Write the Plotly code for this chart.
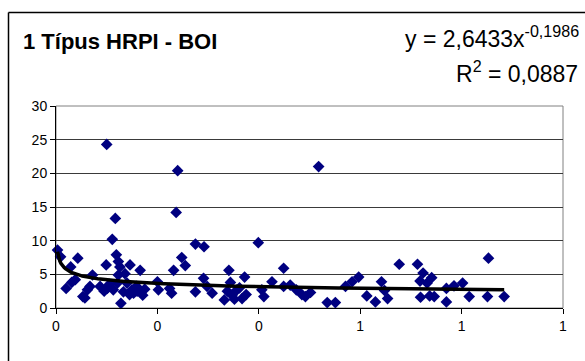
import numpy as np
import plotly.graph_objects as go

# Data
x_vals = [0.003, 0.009, 0.020, 0.029, 0.031, 0.038, 0.043, 0.053, 0.057, 0.062,
          0.067, 0.072, 0.087, 0.095, 0.099, 0.100, 0.101, 0.105, 0.111, 0.113,
          0.117, 0.119, 0.121, 0.123, 0.123, 0.126, 0.128, 0.133, 0.136, 0.140,
          0.145, 0.146, 0.150, 0.153, 0.159, 0.160, 0.166, 0.171, 0.175, 0.200,
          0.202, 0.224, 0.228, 0.232, 0.237, 0.240, 0.248, 0.255, 0.275, 0.275,
          0.291, 0.292, 0.298, 0.308, 0.332, 0.338, 0.341, 0.344, 0.347, 0.352,
          0.357, 0.362, 0.367, 0.372, 0.375, 0.399, 0.406, 0.410, 0.426, 0.449,
          0.449, 0.462, 0.474, 0.485, 0.492, 0.502, 0.518, 0.535, 0.551, 0.571,
          0.584, 0.597, 0.613, 0.630, 0.642, 0.648, 0.654, 0.677, 0.713, 0.718,
          0.719, 0.724, 0.732, 0.737, 0.741, 0.746, 0.770, 0.770, 0.785, 0.802,
          0.815, 0.851, 0.853, 0.884]
y_vals = [8.6, 7.6, 2.9, 6.1, 3.8, 4.2, 7.4, 1.7, 1.5, 2.7,
          3.2, 4.9, 3.2, 2.5, 6.4, 24.3, 2.9, 3.5, 10.2, 2.7,
          13.3, 7.9, 3.7, 4.9, 6.9, 6.1, 0.7, 2.4, 5.1, 3.7,
          2.0, 6.4, 2.7, 2.2, 3.2, 2.5, 5.6, 1.9, 2.8, 3.9,
          2.7, 2.9, 2.2, 5.6, 14.2, 20.4, 7.5, 6.3, 9.5, 2.4,
          4.4, 9.1, 3.2, 2.2, 1.2, 2.5, 5.6, 3.8, 1.9, 1.3,
          2.7, 3.0, 1.4, 4.6, 2.0, 9.7, 2.7, 1.7, 3.9, 5.9,
          3.2, 3.4, 2.7, 2.0, 1.7, 2.3, 21.0, 0.8, 0.8, 3.2,
          3.9, 4.6, 1.8, 0.9, 3.9, 2.6, 1.4, 6.5, 6.5, 4.0,
          1.6, 5.2, 3.7, 1.8, 4.5, 1.7, 0.9, 2.9, 3.3, 3.7,
          1.7, 1.7, 7.4, 1.7]

# Power trendline y = a * x^b (coefficients from chart text)
coef_a = 2.6433
coef_b = -0.1986
title_text = "1 Típus HRPI - BOI"
eq_text = "y = 2,6433x<sup>-0,1986</sup>"
r2_text = "R<sup>2</sup> = 0,0887"
x_ticks = [0, 0.2, 0.4, 0.6, 0.8, 1.0]
y_ticks = [0, 5, 10, 15, 20, 25, 30]

trend_x = np.linspace(min(x_vals), max(x_vals), 400)
trend_y = coef_a * trend_x ** coef_b

FONT = "Liberation Sans, Arial, sans-serif"
L, R, T, B = 56, 22, 106, 53
W, H = 585, 361
pw, ph = W - L - R, H - T - B

def px2paper_x(px):
    return (px - L) / pw

def py2paper_y(py):
    return (H - B - py) / ph

fig = go.Figure()
fig.add_trace(go.Scatter(x=x_vals, y=y_vals, mode="markers",
                         marker=dict(symbol="diamond", size=9, color="#000080",
                                     line=dict(width=0)),
                         cliponaxis=False, hoverinfo="x+y"))
fig.add_trace(go.Scatter(x=trend_x, y=trend_y, mode="lines",
                         line=dict(color="black", width=3.5), hoverinfo="skip"))

frame_left = px2paper_x(8.5)
frame_top = py2paper_y(12.5)

fig.update_layout(
    width=W, height=H,
    margin=dict(l=L, r=R, t=T, b=B),
    paper_bgcolor="white", plot_bgcolor="white",
    showlegend=False,
    font=dict(family=FONT, size=14, color="black"),
    xaxis=dict(range=[0, 1], tickvals=x_ticks, tickformat=".0f",
               showgrid=False, zeroline=False, showline=True, linecolor="black",
               linewidth=1, ticks="outside", ticklen=5, tickcolor="black",
               tickfont=dict(size=14, family=FONT, color="black")),
    yaxis=dict(range=[0, 30], tickvals=y_ticks, showgrid=True, gridcolor="#3a3a3a",
               gridwidth=1, zeroline=False, showline=True, linecolor="black",
               linewidth=1, ticks="outside", ticklen=5, tickcolor="black",
               tickfont=dict(size=14, family=FONT, color="black")),
    shapes=[
        dict(type="rect", xref="paper", yref="paper", x0=0, y0=0, x1=1, y1=1,
             line=dict(color="#808080", width=1), layer="below"),
        dict(type="line", xref="paper", yref="paper",
             x0=frame_left, y0=frame_top, x1=frame_left, y1=py2paper_y(361),
             line=dict(color="black", width=1.5), layer="above"),
        dict(type="line", xref="paper", yref="paper",
             x0=frame_left, y0=frame_top, x1=px2paper_x(585), y1=frame_top,
             line=dict(color="black", width=1.5), layer="above"),
    ],
    annotations=[
        dict(text="<b>" + title_text + "</b>", xref="paper", yref="paper",
             x=px2paper_x(21), y=py2paper_y(42), xanchor="left", yanchor="middle",
             showarrow=False, font=dict(size=22, family=FONT, color="black")),
        dict(text=eq_text, xref="paper", yref="paper",
             x=px2paper_x(581), y=py2paper_y(37), xanchor="right", yanchor="middle",
             showarrow=False, font=dict(size=23, family=FONT, color="black")),
        dict(text=r2_text, xref="paper", yref="paper",
             x=px2paper_x(580), y=py2paper_y(72), xanchor="right", yanchor="middle",
             showarrow=False, font=dict(size=23, family=FONT, color="black")),
    ],
)

fig.write_html("out.html")
